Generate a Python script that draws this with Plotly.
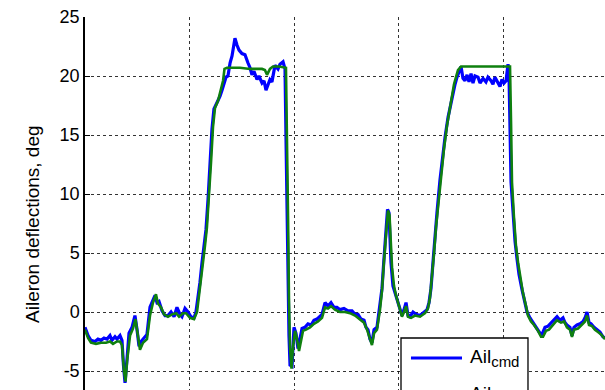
import plotly.graph_objects as go

# Time stamps (s) and aileron deflections (deg)
t_cmd = [0.00, 0.29, 0.57, 0.96, 1.24, 1.53, 1.82, 2.11, 2.39, 2.58, 2.87, 3.06, 3.35, 3.54, 3.68, 3.83,
         4.02, 4.21, 4.50, 4.78, 4.98, 5.17, 5.36, 5.65, 5.93, 6.22, 6.51, 6.70, 6.89, 7.08, 7.37, 7.66,
         7.94, 8.23, 8.52, 8.80, 9.09, 9.28, 9.57, 9.86, 10.14, 10.43, 10.62, 10.81, 11.00, 11.20, 11.39,
         11.58, 11.77, 11.96, 12.15, 12.34, 12.63, 12.92, 13.11, 13.30, 13.49, 13.68, 13.88, 14.07, 14.35,
         14.55, 14.74, 15.02, 15.31, 15.60, 15.79, 15.98, 16.17, 16.46, 16.65, 16.94, 17.13, 17.32, 17.51,
         17.70, 17.89, 18.18, 18.47, 18.66, 18.95, 19.14, 19.23, 19.33, 19.43, 19.52, 19.62, 19.81, 20.00,
         20.19, 20.38, 20.57, 20.77, 21.05, 21.34, 21.63, 21.91, 22.20, 22.49, 22.68, 22.97, 23.25, 23.54,
         23.83, 24.11, 24.40, 24.78, 25.17, 25.55, 25.84, 26.12, 26.41, 26.70, 26.89, 27.08, 27.27, 27.46,
         27.66, 27.94, 28.23, 28.42, 28.61, 28.80, 28.95, 29.09, 29.19, 29.28, 29.47, 29.67, 29.86, 30.14,
         30.33, 30.53, 30.72, 30.91, 31.10, 31.39, 31.67, 32.06, 32.44, 32.73, 32.92, 33.11, 33.30, 33.49,
         33.68, 33.97, 34.26, 34.45, 34.74, 35.02, 35.22, 35.41, 35.60, 35.79, 35.98, 36.17, 36.36, 36.56,
         36.75, 36.94, 37.13, 37.32, 37.61, 37.80, 38.09, 38.37, 38.56, 38.85, 39.04, 39.23, 39.43, 39.71,
         39.90, 40.10, 40.29, 40.48, 40.57, 40.67, 40.77, 40.96, 41.15, 41.34, 41.53, 41.82, 42.11, 42.30,
         42.58, 42.87, 43.25, 43.54, 43.73, 44.02, 44.31, 44.69, 44.98, 45.17, 45.45, 45.74, 45.93, 46.12,
         46.41, 46.60, 46.79, 47.08, 47.37, 47.66, 47.85, 48.04, 48.23, 48.42, 48.71, 49.00, 49.28, 49.57,
         49.76]
ail_cmd = [-1.3, -2.0, -2.4, -2.5, -2.3, -2.4, -2.2, -2.3, -2.0, -2.4, -2.1, -2.3, -2.0, -2.4, -4.5, -6.0,
           -4.0, -1.8, -1.3, -0.3, -1.5, -2.9, -2.5, -2.2, -1.9, 0.4, 1.0, 1.4, 0.8, 0.9, 0.1, -0.3,
           -0.3, 0.0, -0.4, 0.4, -0.2, -0.4, 0.3, 0.0, -0.4, -0.5, 0.0, 1.2, 2.5, 4.2, 5.5,
           7.0, 9.5, 12.5, 15.5, 17.2, 17.7, 18.3, 18.8, 19.3, 19.9, 20.0, 21.1, 21.7, 23.2,
           22.6, 22.2, 21.9, 21.8, 21.1, 20.7, 20.1, 20.4, 19.7, 20.0, 19.4, 19.6, 18.8, 19.3,
           19.7, 19.5, 20.9, 20.6, 21.0, 21.2, 20.6, 15.0, 8.0, 1.0, -2.0, -4.5, -4.6, -1.3,
           -1.8, -3.1, -2.3, -1.4, -1.3, -1.0, -1.1, -0.7, -0.6, -0.4, -0.2, 0.8, 0.5, 0.8,
           0.4, 0.4, 0.2, 0.3, 0.1, 0.1, -0.2, -0.2, -0.6, -0.7, -1.3, -1.5, -2.3, -2.6,
           -1.5, -1.3, 0.5, 2.0, 4.5, 6.8, 8.7, 8.4, 6.0, 4.2, 2.2, 1.6, 1.0, 0.2,
           -0.3, 0.2, 0.8, -0.3, -0.4, 0.0, -0.2, -0.3, 0.0, 0.2, 0.8, 2.0, 4.2, 6.5,
           8.4, 11.2, 13.5, 14.8, 16.5, 17.7, 18.8, 19.3, 19.9, 20.3, 20.8, 19.8, 19.6, 20.1,
           19.5, 20.2, 19.4, 20.0, 19.9, 19.4, 19.8, 19.5, 19.9, 19.6, 19.3, 19.9, 19.6, 19.1,
           19.7, 19.4, 19.6, 21.0, 20.3, 15.0, 11.0, 8.5, 6.0, 4.5, 3.2, 1.9, 0.9, 0.0,
           -0.5, -0.9, -1.3, -1.8, -1.9, -1.3, -1.2, -0.8, -0.6, -0.4, -0.7, -0.5, -0.9, -1.1,
           -1.3, -2.0, -1.3, -1.1, -1.0, -0.8, -0.5, 0.0, -0.9, -1.0, -1.3, -1.5, -1.7, -2.1,
           -2.2]

t_act = [0.00, 0.29, 0.57, 1.05, 1.53, 2.01, 2.39, 2.68, 3.06, 3.35, 3.54, 3.73, 3.88, 4.02, 4.31, 4.59,
         4.83, 5.07, 5.26, 5.55, 5.93, 6.22, 6.51, 6.79, 6.99, 7.27, 7.56, 7.94, 8.33, 8.71, 9.00, 9.38,
         9.67, 10.05, 10.43, 10.72, 10.91, 11.10, 11.29, 11.48, 11.67, 11.87, 12.06, 12.25, 12.44, 12.73,
         13.01, 13.21, 13.35, 13.59, 14.83, 15.79, 16.94, 17.22, 17.42, 17.70, 17.99, 18.56, 19.23, 19.33,
         19.43, 19.52, 19.62, 19.76, 19.90, 20.10, 20.29, 20.48, 20.67, 20.86, 21.15, 21.53, 21.91, 22.30,
         22.68, 22.97, 23.25, 23.54, 23.92, 24.40, 24.88, 25.36, 25.84, 26.32, 26.70, 26.99, 27.27, 27.46,
         27.66, 27.94, 28.23, 28.42, 28.61, 28.80, 28.99, 29.14, 29.23, 29.38, 29.57, 29.76, 30.05, 30.33,
         30.53, 30.72, 30.91, 31.20, 31.58, 32.06, 32.54, 32.82, 33.01, 33.21, 33.40, 33.59, 33.78, 34.07,
         34.35, 34.64, 34.93, 35.12, 35.31, 35.50, 35.69, 35.98, 37.80, 39.23, 40.67, 40.77, 40.86, 41.05,
         41.24, 41.44, 41.63, 41.91, 42.20, 42.39, 42.68, 42.97, 43.35, 43.64, 43.83, 44.11, 44.40, 44.78,
         45.17, 45.55, 45.84, 46.12, 46.41, 46.60, 46.79, 47.18, 47.56, 47.85, 48.04, 48.23, 48.52, 48.80,
         49.09, 49.38, 49.76]
ail_act = [-1.5, -2.2, -2.6, -2.7, -2.6, -2.6, -2.5, -2.7, -2.5, -2.5, -2.8, -5.0, -5.9, -4.2, -2.0, -1.4,
           -0.6, -2.2, -3.2, -2.6, -2.3, -0.3, 0.8, 1.5, 0.7, 0.4, -0.2, -0.4, -0.2, -0.1, -0.4, -0.1,
           -0.1, -0.5, -0.6, 0.0, 1.3, 2.6, 4.3, 5.6, 7.2, 9.7, 12.7, 15.7, 17.3, 17.9,
           18.8, 19.6, 20.6, 20.7, 20.7, 20.6, 20.6, 20.5, 20.1, 20.6, 20.8, 20.8, 20.7, 16.0,
           8.0, 1.0, -3.0, -4.8, -3.0, -1.6, -2.3, -3.3, -2.4, -1.6, -1.5, -1.3, -1.0, -0.8,
           -0.5, 0.4, 0.3, 0.5, 0.2, 0.0, 0.0, -0.1, -0.3, -0.6, -0.9, -1.5, -2.4, -2.8,
           -1.8, -1.5, 0.2, 1.8, 4.3, 6.6, 8.6, 8.2, 6.0, 3.8, 2.2, 1.4, 0.5, -0.4,
           0.0, 0.5, -0.4, -0.5, -0.3, -0.4, -0.1, 0.3, 1.2, 3.0, 5.0, 7.2, 9.0, 11.6,
           13.8, 15.8, 17.3, 18.3, 19.3, 19.9, 20.5, 20.8, 20.8, 20.8, 20.8, 16.0, 11.0, 8.0,
           5.6, 4.2, 3.0, 1.6, 0.5, -0.3, -0.8, -1.1, -1.6, -2.1, -2.1, -1.6, -1.5, -1.1,
           -0.7, -0.9, -0.8, -1.3, -1.5, -2.1, -1.5, -1.4, -1.1, -0.8, -0.3, -1.1, -1.2, -1.5,
           -1.7, -1.9, -2.3]

y_ticks = [-5, 0, 5, 10, 15, 20, 25]
y_tick_text = ["-5", "0", "5", "10", "15", "20", "25"]
x_ticks = [0, 10, 20, 30, 40]

BLUE = "#0000ff"
GREEN = "#0f800f"
FONT = "Liberation Sans, Arial, sans-serif"

fig = go.Figure()
fig.add_trace(go.Scatter(x=t_cmd, y=ail_cmd, mode="lines", name="Ail<sub>cmd</sub>",
                         line=dict(color=BLUE, width=3.2), showlegend=False))
fig.add_trace(go.Scatter(x=t_act, y=ail_act, mode="lines", name="Ail<sub>act</sub>",
                         line=dict(color=GREEN, width=2.6), showlegend=False))

grid = dict(showgrid=True, gridcolor="rgba(0,0,0,0.8)", gridwidth=1, griddash="dot", zeroline=False)

fig.update_layout(
    width=605, height=390,
    margin=dict(l=85, r=0, t=17, b=0),
    paper_bgcolor="white", plot_bgcolor="white",
    font=dict(family=FONT, color="black"),
    xaxis=dict(range=[0, 49.76], tickvals=x_ticks, showticklabels=False, ticks="",
               showline=False, **grid),
    xaxis2=dict(range=[0, 49.76], tickvals=x_ticks, overlaying="x", side="top", anchor="y",
                showline=True, linecolor="black", linewidth=1, ticks="inside", ticklen=5,
                tickcolor="black", showticklabels=False, showgrid=False, zeroline=False),
    yaxis=dict(range=[-6.61, 25], tickvals=y_ticks, ticktext=y_tick_text, ticks="inside",
               ticklen=5, tickcolor="black", showline=True, linecolor="black", linewidth=1.5,
               tickfont=dict(size=18, family=FONT, color="black"), **grid),
)

# axis title
fig.add_annotation(text="Aileron deflections, deg", textangle=-90, xref="paper", yref="paper",
                   x=-0.102, y=0.445, xanchor="center", yanchor="middle", showarrow=False,
                   font=dict(size=19, family=FONT, color="black"))

# legend box in the lower right corner
fig.add_shape(type="rect", xref="paper", yref="paper", x0=0.6077, x1=0.8519, y0=-0.4, y1=0.1394,
              line=dict(color="black", width=1.3), fillcolor="white", layer="above")
legend_rows = [("Ail<sub><span style='font-size:15px'>cmd</span></sub>", BLUE, 0.0858),
               ("Ail<sub><span style='font-size:15px'>act</span></sub>", GREEN, -0.0134)]
for label, color, ypos in legend_rows:
    fig.add_shape(type="line", xref="paper", yref="paper", x0=0.6269, x1=0.725, y0=ypos, y1=ypos,
                  line=dict(color=color, width=3), layer="above")
    fig.add_annotation(text=label, xref="paper", yref="paper", x=0.7365, y=ypos,
                       xanchor="left", yanchor="middle", showarrow=False,
                       font=dict(size=19, family=FONT, color="black"))

fig.write_html("out.html")
